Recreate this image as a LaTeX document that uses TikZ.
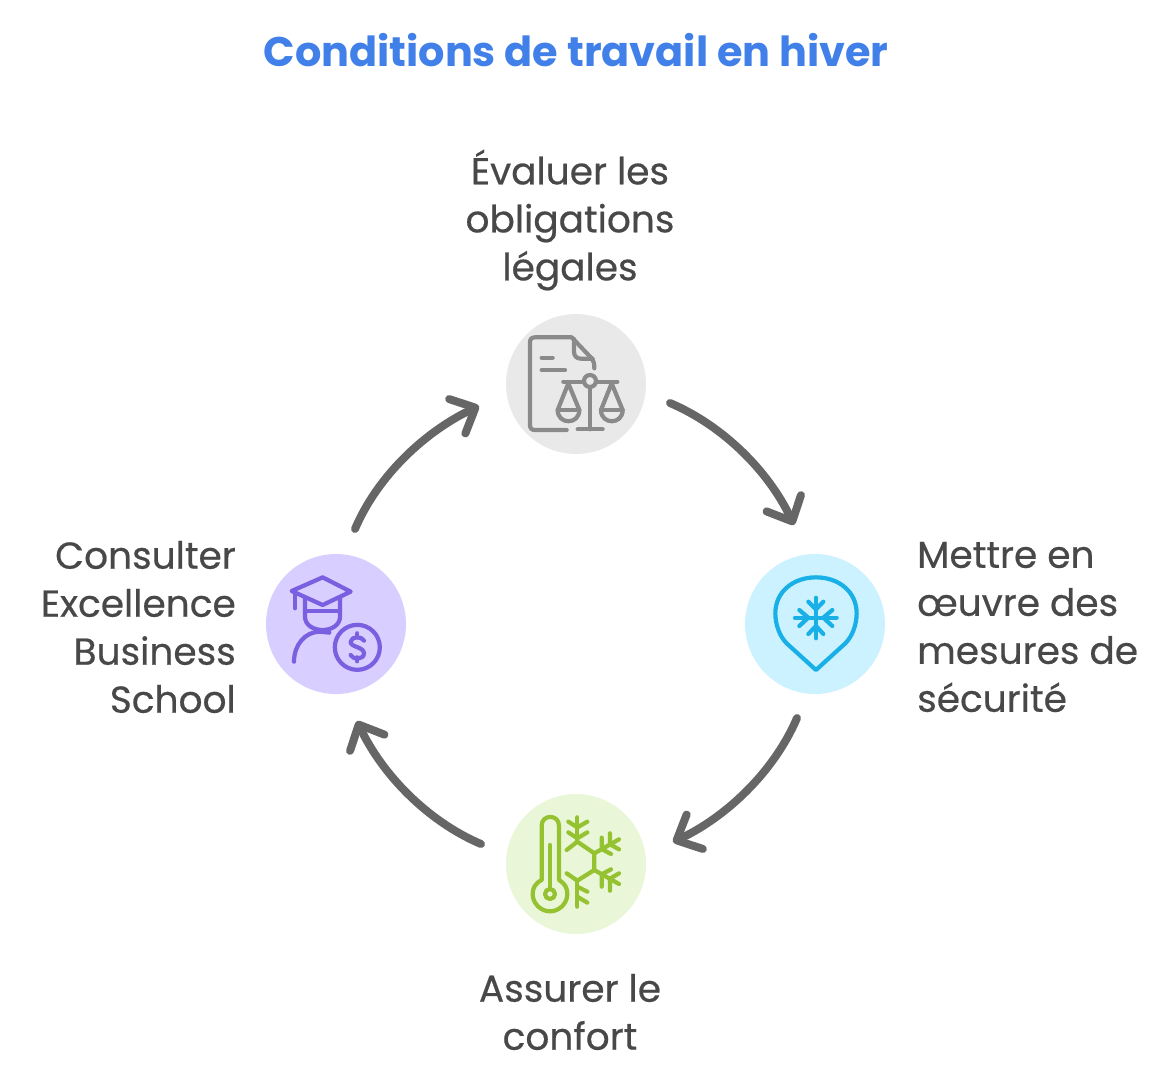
\documentclass[tikz,border=0pt]{standalone}
\usepackage{fontspec}
\setmainfont{Poppins}
\newfontfamily\labelfont[FakeBold=0.5]{Poppins}
\usetikzlibrary{arrows.meta}
\definecolor{txt}{HTML}{484848}
\definecolor{ttl}{HTML}{4080E8}
\definecolor{arr}{HTML}{666666}
\definecolor{gbg}{HTML}{E9E9E9}\definecolor{gic}{HTML}{8A8A8A}
\definecolor{bbg}{HTML}{CDF2FF}\definecolor{bic}{HTML}{18B0E6}
\definecolor{lbg}{HTML}{EAF6D8}\definecolor{lic}{HTML}{95C230}
\definecolor{pbg}{HTML}{D8CEFF}\definecolor{pic}{HTML}{7A5FE0}
\tikzset{
  disc/.style={circle,minimum size=140pt,inner sep=0pt,draw=none},
  label/.style={inner sep=0pt,text=txt,font=\labelfont\fontsize{37.5}{48}\selectfont},
  flow/.style={draw=arr,line width=8pt,line cap=round,line join=round,
    -{Straight Barb[length=20pt,width=38pt,round]}},
  icon/.style={x=0.3333pt,y=-0.3333pt,line width=4.2pt,line cap=round,line join=round},
}
\begin{document}
\begin{tikzpicture}[x=1pt,y=-1pt]
\useasboundingbox (0,0) rectangle (1176,1080);
\node[inner sep=0pt,text=ttl,font=\fontsize{41.4}{48}\selectfont\bfseries] (title) at (576,50) {Conditions de travail en hiver};
\node[disc,fill=gbg] (top) at (576,384) {};
\node[disc,fill=bbg] (right) at (815,624) {};
\node[disc,fill=lbg] (bottom) at (576,864) {};
\node[disc,fill=pbg] (left) at (336,624) {};
\node[label,align=center] (ltop) at (570,220) {Évaluer les\\obligations\\légales};
\node[label,align=left,anchor=west] (lright) at (917,627) {Mettre en\\œuvre des\\mesures de\\sécurité};
\node[label,align=center] (lbottom) at (570,1012) {Assurer le\\confort};
\node[label,align=right,anchor=east] (lleft) at (236,627) {Consulter\\Excellence\\Business\\School};
% connectors
\coordinate (a1s) at ([shift={(94,19)}]top);
\coordinate (a1e) at ([shift={(-21,-99)}]right);
\coordinate (a2s) at ([shift={(-18,94)}]right);
\coordinate (a2e) at ([shift={(97,-22)}]bottom);
\coordinate (a3s) at ([shift={(-95,-20)}]bottom);
\coordinate (a3e) at ([shift={(21,97)}]left);
\coordinate (a4s) at ([shift={(19,-95)}]left);
\coordinate (a4e) at ([shift={(-97,22)}]top);
\draw[flow] (a1s) .. controls +(54,23) and +(-25,-53) .. (a1e);
\draw[flow] (a2s) .. controls +(-23,54) and +(53,-25) .. (a2e);
\draw[flow] (a3s) .. controls +(-54,-23) and +(25,53) .. (a3e);
\draw[flow] (a4s) .. controls +(23,-54) and +(-53,25) .. (a4e);
% icon: document and scales
\begin{scope}[shift={(500,310)},icon,draw=gic]
\draw (200,360) -- (105,360) .. controls (95,360) and (90,355) .. (90,345) -- (90,97) .. controls (90,87) and (95,82) .. (105,82) -- (215,82) -- (275,145) .. controls (281,152) and (283,160) .. (283,175);
\draw (222,87) -- (222,125) .. controls (222,138) and (230,146) .. (243,146) -- (278,146);
\draw (125,143) -- (158,143);
\draw (125,180) -- (195,180);
\draw (190,215) -- (252,215);
\draw (288,215) -- (352,215);
\draw (270,213) circle[radius=6pt];
\draw (270,232) -- (270,358);
\draw (233,358) -- (308,358);
\draw (205,220) -- (173,300) .. controls (173,345) and (238,345) .. (238,300) -- (205,220);
\draw (173,300) -- (238,300);
\draw (335,220) -- (303,300) .. controls (303,345) and (368,345) .. (368,300) -- (335,220);
\draw (303,300) -- (368,300);
\end{scope}
% icon: pin with snowflake
\begin{scope}[shift={(740,550)},icon,draw=bic]
\draw (228,360) -- (140,280) .. controls (118,258) and (106,222) .. (106,190) .. controls (106,125) and (160,82) .. (228,82) .. controls (296,82) and (350,125) .. (350,190) .. controls (350,222) and (338,258) .. (316,280) -- cycle;
\draw (228,143) -- (228,265);
\draw (165,203) -- (290,203);
\draw (205,155) -- (228,178) -- (250,155);
\draw (205,252) -- (228,228) -- (250,252);
\draw (178,180) -- (205,203) -- (178,228);
\draw (277,180) -- (250,203) -- (277,228);
\end{scope}
% icon: thermometer and half snowflake
\begin{scope}[shift={(500,790)},icon,draw=lic]
\draw (125,270) -- (125,107) .. controls (125,72) and (177,72) .. (177,107) -- (177,270) .. controls (195,280) and (202,295) .. (202,312) .. controls (202,340) and (178,364) .. (150,364) .. controls (122,364) and (98,340) .. (98,312) .. controls (98,295) and (105,280) .. (125,270);
\draw (150,165) -- (150,295);
\draw (150,312) circle[radius=5pt];
\draw (200,180) -- (232,155) -- (283,190) -- (283,240) -- (232,272) -- (200,250);
\draw (232,82) -- (232,155);
\draw (205,95) -- (232,112) -- (262,95);
\draw (205,127) -- (232,145) -- (262,127);
\draw (283,190) -- (357,148);
\draw (305,143) -- (305,177) -- (333,192);
\draw (330,130) -- (330,163) -- (357,178);
\draw (283,240) -- (357,282);
\draw (305,290) -- (305,253) -- (333,238);
\draw (330,302) -- (330,266) -- (357,250);
\draw (232,272) -- (232,350);
\draw (232,290) -- (262,305);
\draw (232,320) -- (262,338);
\end{scope}
% icon: graduate and coin
\begin{scope}[shift={(260,550)},icon,draw=pic]
\draw (95,123) -- (188,82) -- (272,125) -- (188,165) -- cycle;
\draw (105,125) -- (105,175);
\draw (135,145) -- (135,200) .. controls (135,225) and (160,240) .. (188,240) .. controls (215,240) and (240,225) .. (240,200) -- (240,145);
\draw (135,183) -- (240,183);
\draw (208,248) -- (180,245) .. controls (135,245) and (102,285) .. (102,335);
\draw (292,292) circle[radius=22.5pt];
\draw (292,250) -- (292,262);
\draw (292,322) -- (292,334);
\draw (312,272) .. controls (305,258) and (275,258) .. (272,275) .. controls (270,292) and (312,290) .. (312,310) .. controls (312,330) and (278,330) .. (272,315);
\end{scope}
\end{tikzpicture}
\end{document}
